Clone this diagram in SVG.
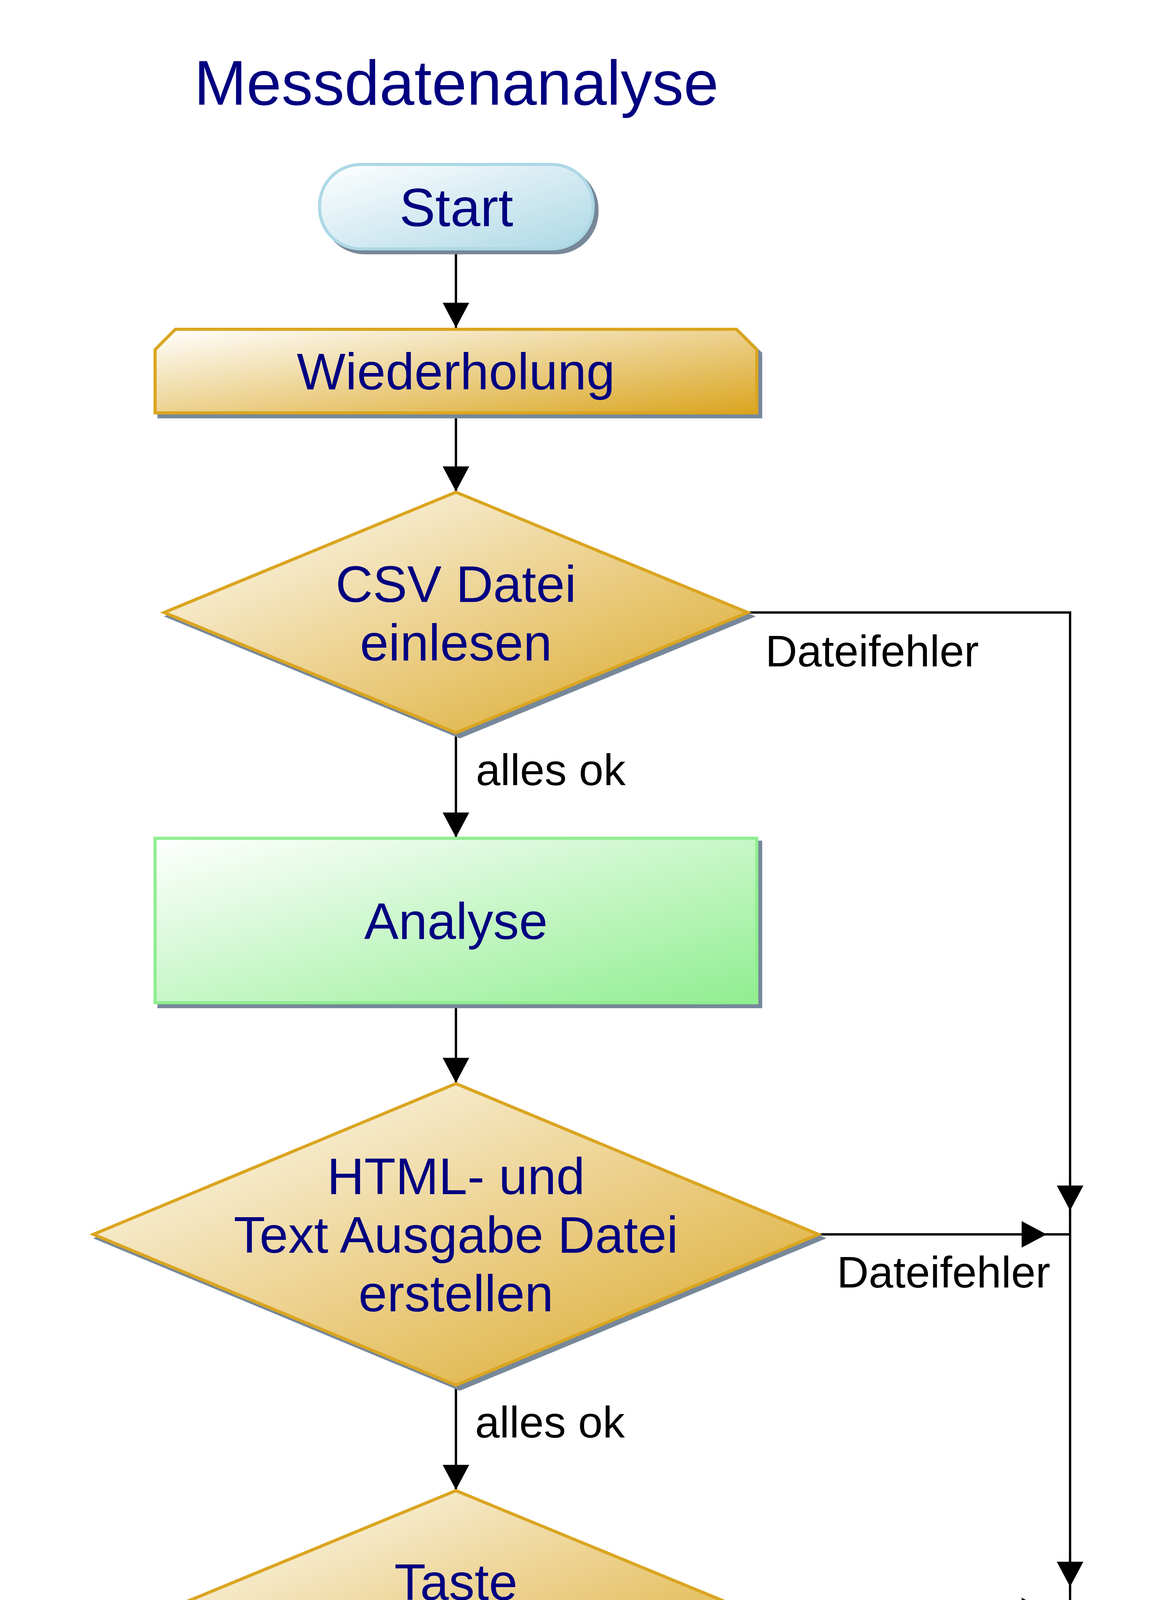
<svg xmlns="http://www.w3.org/2000/svg" width="2941" height="6474" viewBox="0 0 2941 6474">
<style>
.title{font-family:"Liberation Sans",Arial,sans-serif;font-size:161px;fill:#000080;text-anchor:middle}
.nt{font-family:"Liberation Sans",Arial,sans-serif;font-size:132px;fill:#000080;text-anchor:middle}
.tt{font-family:"Liberation Sans",Arial,sans-serif;font-size:138px;fill:#000080;text-anchor:middle}
.lbl{font-family:"Liberation Sans",Arial,sans-serif;font-size:113px;fill:#000000}
.shadow{fill:#778899;stroke:#778899;stroke-width:8}
.term{fill:url(#gBlue);stroke:#ADD8E6;stroke-width:8}
.gold{fill:url(#gGold);stroke:#DAA520;stroke-width:8;stroke-linejoin:miter}
.green{fill:url(#gGreen);stroke:#90EE90;stroke-width:8}
.con{fill:none;stroke:#000000;stroke-width:6}
.arr{marker-end:url(#arrow)}
</style>
<defs>
<linearGradient id="gBlue" x1="0" y1="0" x2="1" y2="1">
<stop offset="0" stop-color="#FFFFFF"/>
<stop offset="1" stop-color="#ADD8E6"/>
</linearGradient>
<linearGradient id="gGold" x1="0" y1="0" x2="1" y2="1">
<stop offset="0" stop-color="#FFFFFF"/>
<stop offset="1" stop-color="#DAA520"/>
</linearGradient>
<linearGradient id="gGreen" x1="0" y1="0" x2="1" y2="1">
<stop offset="0" stop-color="#FFFFFF"/>
<stop offset="1" stop-color="#90EE90"/>
</linearGradient>
<marker id="arrow" markerUnits="userSpaceOnUse" viewBox="0 0 64 68" markerWidth="64" markerHeight="68" refX="64" refY="34" orient="auto">
<path d="M0,0 L64,34 L0,68 Z" fill="#000000"/>
</marker>
</defs>
<rect width="2941" height="6474" fill="#FFFFFF"/>

<g id="title"><text class="title" x="1168" y="268">Messdatenanalyse</text></g>

<g id="connectors">
<path class="con arr" d="M1167,637 V839"/>
<path class="con arr" d="M1167,1057 V1258"/>
<path class="con arr" d="M1167,1876 V2144"/>
<path class="con arr" d="M1167,2567 V2772"/>
<path class="con arr" d="M1167,3546 V3814"/>
<path class="con arr" d="M1167,4432 V4700"/>
<path class="con arr" d="M1167,5124 V5328"/>
<path class="con arr" d="M1167,5647 V5787"/>
<path class="con arr" d="M1167,5787 V6046"/>
<path class="con arr" d="M1914,1568 H2739 V3099"/>
<path class="con arr" d="M2095,3160 H2679"/>
<path class="con" d="M2679,3160 H2739"/>
<path class="con arr" d="M2739,3099 V4062"/>
<path class="con arr" d="M1914,4124 H2679"/>
<path class="con" d="M2679,4124 H2739"/>
<path class="con arr" d="M2739,4062 V5850 H1229"/>
<path class="con" d="M1229,5850 H1167"/>
<text class="lbl" x="1959" y="1706">Dateifehler</text>
<text class="lbl" x="1218" y="2010">alles ok</text>
<text class="lbl" x="2142" y="3296">Dateifehler</text>
<text class="lbl" x="1216" y="3680">alles ok</text>
<text class="lbl" x="1959" y="4261">ESC</text>
<text class="lbl" x="1220" y="4568">ENTER</text>
</g>

<g id="start">
<rect class="shadow" x="828" y="431" width="700" height="216" rx="105" ry="105"/>
<rect class="term" x="818" y="421" width="700" height="216" rx="105" ry="105"/>
<text class="tt" x="1168" y="579">Start</text>
</g>

<g id="wiederholung">
<polygon class="shadow" points="407,905 459,853 1895,853 1947,905 1947,1067 407,1067"/>
<polygon class="gold" points="397,895 449,843 1885,843 1937,895 1937,1057 397,1057"/>
<text class="nt" x="1167" y="997">Wiederholung</text>
</g>

<g id="csv">
<polygon class="shadow" points="1177,1270 1924,1578 1177,1886 430,1578"/>
<polygon class="gold" points="1167,1260 1914,1568 1167,1876 420,1568"/>
<text class="nt" x="1167" y="1541">CSV Datei</text>
<text class="nt" x="1167" y="1691">einlesen</text>
</g>

<g id="analyse">
<rect class="shadow" x="407" y="2156" width="1540" height="421"/>
<rect class="green" x="397" y="2146" width="1540" height="421"/>
<text class="nt" x="1167" y="2404">Analyse</text>
</g>

<g id="html">
<polygon class="shadow" points="1177,2784 2105,3170 1177,3556 249,3170"/>
<polygon class="gold" points="1167,2774 2095,3160 1167,3546 239,3160"/>
<text class="nt" x="1167" y="3057">HTML- und</text>
<text class="nt" x="1167" y="3207">Text Ausgabe Datei</text>
<text class="nt" x="1167" y="3357">erstellen</text>
</g>

<g id="taste">
<polygon class="shadow" points="1177,3826 1924,4134 1177,4442 430,4134"/>
<polygon class="gold" points="1167,3816 1914,4124 1167,4432 420,4124"/>
<text class="nt" x="1167" y="4096">Taste</text>
<text class="nt" x="1167" y="4246">gedrückt</text>
</g>

<g id="grafikausgabe">
<rect class="shadow" x="407" y="4712" width="1540" height="422"/>
<rect class="green" x="397" y="4702" width="1540" height="422"/>
<text class="nt" x="1167" y="4961">Grafikausgabe</text>
</g>

<g id="bisesc">
<polygon class="shadow" points="407,5340 1947,5340 1947,5578 1868,5657 486,5657 407,5578"/>
<polygon class="gold" points="397,5330 1937,5330 1937,5568 1858,5647 476,5647 397,5568"/>
<text class="nt" x="1167" y="5463">bis ESC Taste</text>
<text class="nt" x="1167" y="5613">gedrückt</text>
</g>

<g id="ende">
<rect class="shadow" x="828" y="6058" width="700" height="216" rx="105" ry="105"/>
<rect class="term" x="818" y="6048" width="700" height="216" rx="105" ry="105"/>
<text class="tt" x="1168" y="6206">Ende</text>
</g>
</svg>
